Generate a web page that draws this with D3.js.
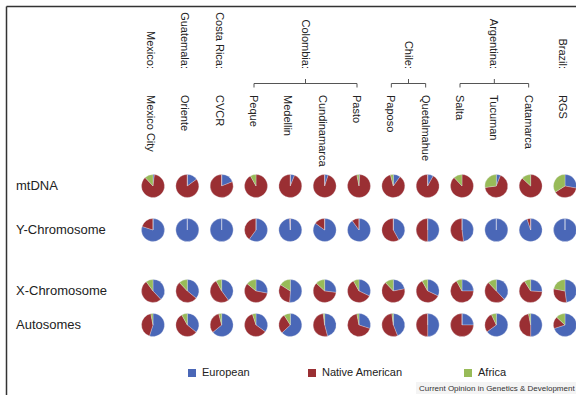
<!DOCTYPE html>
<html>
<head>
<meta charset="utf-8">
<script src="https://cdn.jsdelivr.net/npm/d3@7/dist/d3.min.js"></script>
<style>
  html, body { margin: 0; padding: 0; background: #fff; }
  svg { display: block; font-family: "Liberation Sans", Arial, sans-serif; }
</style>
</head>
<body>
<svg id="chart" width="576" height="395"></svg>
<script>
// Sampled populations (columns) and the country each group belongs to
const populations = ["Mexico City", "Oriente", "CVCR", "Peque", "Medellin", "Cundinamarca",
  "Pasto", "Paposo", "Quetalmahue", "Salta", "Tucuman", "Catamarca", "RGS"];
const countries = ["Mexico:", "Guatemala:", "Costa Rica:", "Colombia:", "Chile:", "Argentina:", "Brazil:"];
const countryFirst = [0, 1, 2, 3, 7, 9, 12];
const countryLast  = [0, 1, 2, 6, 8, 11, 12];

// Genetic markers (rows)
const markers = ["mtDNA", "Y-Chromosome", "X-Chromosome", "Autosomes"];

// Ancestry components
const ancestries = ["European", "Native American", "Africa"];
const colors = ["#4a67b7", "#9a2f33", "#98bb58"];

// Ancestry proportions (%) per marker, one value per population
const europeanMt  = [2, 15, 19, 0, 6, 5, 1, 10, 8, 0, 6, 0, 28];
const nativeMt    = [86, 85, 81, 92, 94, 95, 96, 86, 92, 88, 67, 87, 38];
const africaMt    = [12, 0, 0, 8, 0, 0, 3, 4, 0, 12, 27, 13, 34];

const europeanY   = [80, 100, 100, 60, 99, 85, 90, 42, 50, 48, 100, 95, 100];
const nativeY     = [20, 0, 0, 40, 1, 15, 10, 58, 50, 52, 0, 5, 0];
const africaY     = [0, 0, 0, 0, 0, 0, 0, 0, 0, 0, 0, 0, 0];

const europeanX   = [38, 36, 40, 28, 51, 27, 32, 22, 32, 25, 38, 26, 48];
const nativeX     = [52, 52, 52, 58, 33, 60, 60, 66, 60, 67, 50, 65, 30];
const africaX     = [10, 12, 8, 14, 16, 13, 8, 12, 8, 8, 12, 9, 22];

const europeanAut = [55, 36, 64, 35, 63, 46, 30, 44, 50, 25, 65, 50, 70];
const nativeAut   = [42, 56, 32, 60, 28, 52, 67, 54, 50, 75, 28, 47, 17];
const africaAut   = [3, 8, 4, 5, 9, 2, 3, 2, 0, 0, 7, 3, 13];

const europeanByMarker = [europeanMt, europeanY, europeanX, europeanAut];
const nativeByMarker   = [nativeMt, nativeY, nativeX, nativeAut];
const africaByMarker   = [africaMt, africaY, africaX, africaAut];

const svg = d3.select("#chart");
const textColor = "#222";

// Frame lines along the top and left edges
svg.append("line").attr("x1", 6.5).attr("x2", 576).attr("y1", 6.5).attr("y2", 6.5)
  .attr("stroke", "#333").attr("stroke-width", 1.5);
svg.append("line").attr("x1", 6.5).attr("x2", 6.5).attr("y1", 6.5).attr("y2", 395)
  .attr("stroke", "#333").attr("stroke-width", 1.5);

// Column and row positions
const x = d3.scalePoint().domain(populations).range([153, 565]);
const y = d3.scaleOrdinal().domain(markers).range([186, 230, 291, 325]);
const color = d3.scaleOrdinal().domain(ancestries).range(colors);

const radius = 11.5;
const pie = d3.pie().sort(null).value(d => d.value);
const arc = d3.arc().innerRadius(0).outerRadius(radius);

// Row labels
svg.append("g").selectAll("text").data(markers).join("text")
  .attr("x", 16).attr("y", d => y(d) + 1)
  .attr("dominant-baseline", "middle")
  .attr("font-size", 13).attr("fill", textColor)
  .text(d => d);

// Population labels, rotated to read downward
const labelX = p => x(p) - 2;
svg.append("g").selectAll("text").data(populations).join("text")
  .attr("transform", d => `translate(${labelX(d)},95) rotate(90)`)
  .attr("dominant-baseline", "central")
  .attr("font-size", 11).attr("fill", textColor)
  .text(d => d);

// Country labels with brackets over multi-population groups
const countryG = svg.append("g");
countries.forEach((c, i) => {
  const x0 = labelX(populations[countryFirst[i]]);
  const x1 = labelX(populations[countryLast[i]]);
  const cx = (x0 + x1) / 2;
  countryG.append("text")
    .attr("transform", `translate(${cx},69) rotate(90)`)
    .attr("text-anchor", "end")
    .attr("dominant-baseline", "central")
    .attr("font-size", 11).attr("fill", textColor)
    .text(c);
  if (countryLast[i] > countryFirst[i]) {
    const path = d3.path();
    path.moveTo(x0, 87.5); path.lineTo(x0, 83.5); path.lineTo(x1, 83.5); path.lineTo(x1, 87.5);
    path.moveTo(cx, 83.5); path.lineTo(cx, 79);
    countryG.append("path").attr("d", path.toString())
      .attr("fill", "none").attr("stroke", "#555").attr("stroke-width", 1);
  }
});

// Pie grid
markers.forEach((m, r) => {
  populations.forEach((p, c) => {
    const values = [
      { key: "European", value: europeanByMarker[r][c] },
      { key: "Native American", value: nativeByMarker[r][c] },
      { key: "Africa", value: africaByMarker[r][c] }
    ];
    const g = svg.append("g").attr("transform", `translate(${x(p)},${y(m)})`);
    g.selectAll("path").data(pie(values)).join("path")
      .attr("d", arc)
      .attr("fill", d => color(d.data.key))
      .attr("stroke", "#e8e8ee").attr("stroke-width", 0.3);
  });
});

// Legend
const legendX = [188, 308, 464];
const legend = svg.append("g").selectAll("g").data(ancestries).join("g")
  .attr("transform", (d, i) => `translate(${legendX[i]},369)`);
legend.append("rect").attr("width", 8).attr("height", 8).attr("fill", d => color(d));
legend.append("text").attr("x", 14).attr("y", 4.5)
  .attr("dominant-baseline", "middle")
  .attr("font-size", 11).attr("fill", textColor)
  .text(d => d);

// Source line
svg.append("rect").attr("x", 416).attr("y", 382).attr("width", 160).attr("height", 12)
  .attr("fill", "#f4f4f4");
svg.append("text").attr("x", 419).attr("y", 388.5)
  .attr("dominant-baseline", "middle")
  .attr("font-size", 8).attr("fill", "#333")
  .text("Current Opinion in Genetics & Development");
</script>
</body>
</html>
